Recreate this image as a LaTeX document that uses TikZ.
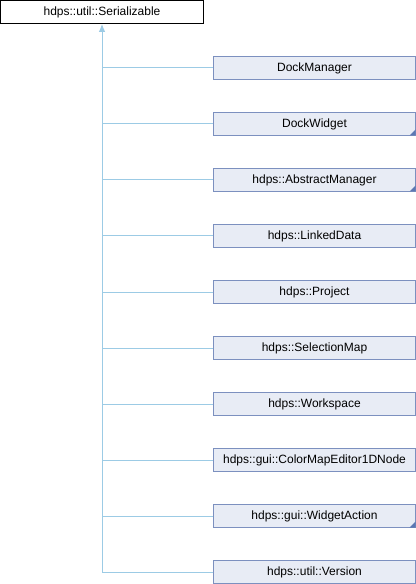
\documentclass[tikz,border=0pt]{standalone}
\usepackage{fontspec}
\setmainfont{Liberation Sans}
\usetikzlibrary{arrows.meta}
\definecolor{BoxFill}{HTML}{E8ECF5}
\definecolor{BoxLine}{HTML}{7C90BF}
\definecolor{EdgeLine}{HTML}{9CCBE5}
\definecolor{CornerMark}{HTML}{5D78B3}

\begin{document}
\begin{tikzpicture}[x=0.75pt, y=-0.75pt,
  classbox/.style={anchor=north west, inner sep=0pt, line width=0.75pt,
    minimum height=17.25pt, font=\fontsize{9pt}{11pt}\selectfont},
  baseclass/.style={classbox, draw=black, fill=white, minimum width=152.25pt},
  derived/.style={classbox, draw=BoxLine, fill=BoxFill, minimum width=151.5pt},
  edge/.style={draw=EdgeLine, line width=0.75pt}]

  % Bildflaeche (416 x 584 px)
  \useasboundingbox (0,0) rectangle (416,584);

  % Basisklasse oben links
  \node[baseclass] (base) at (0,0) {hdps::util::Serializable};

  % Makro fuer abgeleitete Klassen
  % Parameter: 1=Name, 2=y, 3=Beschriftung
  \def\childclass#1#2#3{
    \node[derived] (#1) at (213,#2) {#3};
    \draw[edge] (#1.west) -- (#1.west -| base.south);
  }
  % Makro fuer die Eckmarkierung (Klasse mit weiteren Unterklassen)
  \def\cornermark#1{
    \fill[CornerMark] ([shift={(-0.5,-0.5)}]#1.south east) -- ++(-6,0) -- ++(6,-6) -- cycle;
  }

  % Abgeleitete Klassen (Abstand 56 px)
  \childclass{dockmanager}{56}{DockManager}
  \childclass{dockwidget}{112}{DockWidget}
  \childclass{abstractmanager}{168}{hdps::AbstractManager}
  \childclass{linkeddata}{224}{hdps::LinkedData}
  \childclass{project}{280}{hdps::Project}
  \childclass{selectionmap}{336}{hdps::SelectionMap}
  \childclass{workspace}{392}{hdps::Workspace}
  \childclass{colormapeditor}{448}{hdps::gui::ColorMapEditor1DNode}
  \childclass{widgetaction}{504}{hdps::gui::WidgetAction}
  \childclass{version}{560}{hdps::util::Version}

  \cornermark{dockwidget}
  \cornermark{abstractmanager}
  \cornermark{widgetaction}

  % Stamm mit Pfeil zur Basisklasse
  \coordinate (trunkend) at (base.south |- version.west);
  \draw[edge, -{Latex[length=6pt, width=5pt]}] (trunkend) -- (base.south);

\end{tikzpicture}
\end{document}
